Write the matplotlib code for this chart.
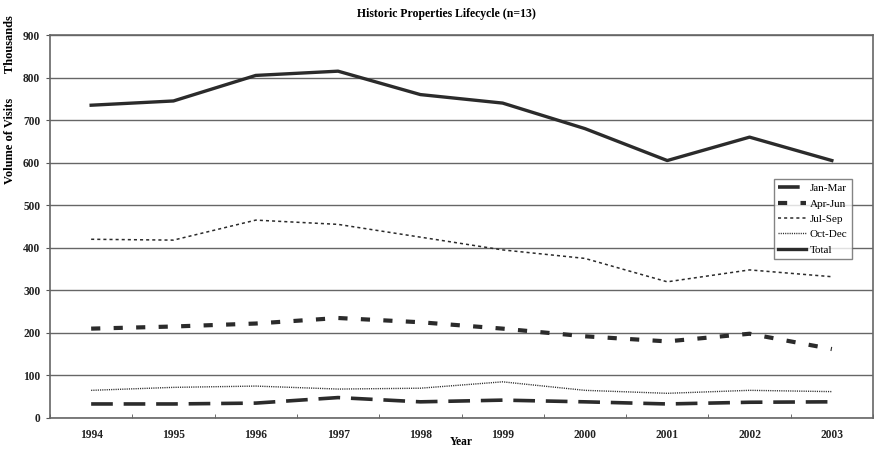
import matplotlib
matplotlib.use("Agg")
import matplotlib.pyplot as plt
import numpy as np

years = ["1994", "1995", "1996", "1997", "1998", "1999", "2000", "2001", "2002", "2003"]
jan_mar = [33, 33, 35, 48, 38, 42, 38, 33, 37, 38]
apr_jun = [210, 215, 222, 235, 225, 210, 192, 180, 198, 162]
jul_sep = [420, 418, 465, 455, 425, 395, 375, 320, 348, 332]
oct_dec = [65, 72, 75, 68, 70, 85, 65, 58, 65, 62]
total = [735, 745, 805, 815, 760, 740, 680, 605, 660, 605]

plt.rcParams['font.family'] = ['Liberation Serif', 'DejaVu Serif']

W, H = 877, 449
L, R, T, B = 50, 873, 35, 418
fig = plt.figure(figsize=(W/100, H/100), dpi=100)
ax = fig.add_axes([L/W, 1-B/H, (R-L)/W, (B-T)/H])

x = np.arange(len(years))
c = '#2b2b2b'
ax.plot(x, jan_mar, color=c, lw=2.6, dashes=(6, 3), label='Jan-Mar')
ax.plot(x, apr_jun, color=c, lw=3.0, dashes=(2.2, 3.2), label='Apr-Jun')
ax.plot(x, jul_sep, color=c, lw=1.1, dashes=(2, 2), label='Jul-Sep')
ax.plot(x, oct_dec, color=c, lw=1.0, dashes=(0.8, 0.8), label='Oct-Dec')
ax.plot(x, total, color=c, lw=2.4, label='Total')

ax.set_xlim(-0.5, len(years) - 0.5)
ax.set_ylim(0, 900)
ax.set_yticks(np.arange(0, 901, 100))
ax.set_xticks(x)
ax.set_xticklabels(years)
ax.set_xticks(np.arange(-0.5, len(years), 1), minor=True)
ax.tick_params(axis='x', which='major', length=0, labelsize=8.3, pad=8)
ax.tick_params(axis='x', which='minor', length=3, direction='in', color='#555555')
ax.tick_params(axis='y', length=3, labelsize=8.3, color='#555555', pad=4)
for lbl in ax.get_xticklabels() + ax.get_yticklabels():
    lbl.set_fontweight('bold')
    lbl.set_color('#222222')

ax.grid(axis='y', color='#666666', lw=1.0)
ax.set_axisbelow(True)
for s in ax.spines.values():
    s.set_color('#666666')
    s.set_linewidth(1.2)

ax.set_xlabel('Year', fontsize=8.3, fontweight='bold')
ax.xaxis.set_label_coords((461-L)/(R-L), -(442-B)/(B-T))
ax.xaxis.label.set_verticalalignment('center')
ax.set_ylabel('Volume of Visits        Thousands', fontsize=9, fontweight='bold')
ax.yaxis.set_label_coords(-(L-10)/(R-L), (B-100)/(B-T))
ax.yaxis.label.set_verticalalignment('center')
fig.text(446/W, 1-14/H, 'Historic Properties Lifecycle (n=13)', fontsize=8.5,
         fontweight='bold', ha='center', va='center')

leg = ax.legend(loc='upper left', bbox_to_anchor=((774-L)/(R-L), (B-179)/(B-T)),
                fontsize=8, frameon=True, fancybox=False, handlelength=2.5,
                borderpad=0.4, labelspacing=0.5, handletextpad=0.3, borderaxespad=0)
leg.get_frame().set_edgecolor('#666666')
leg.get_frame().set_linewidth(1.0)

fig.savefig('out.png', dpi=100)
